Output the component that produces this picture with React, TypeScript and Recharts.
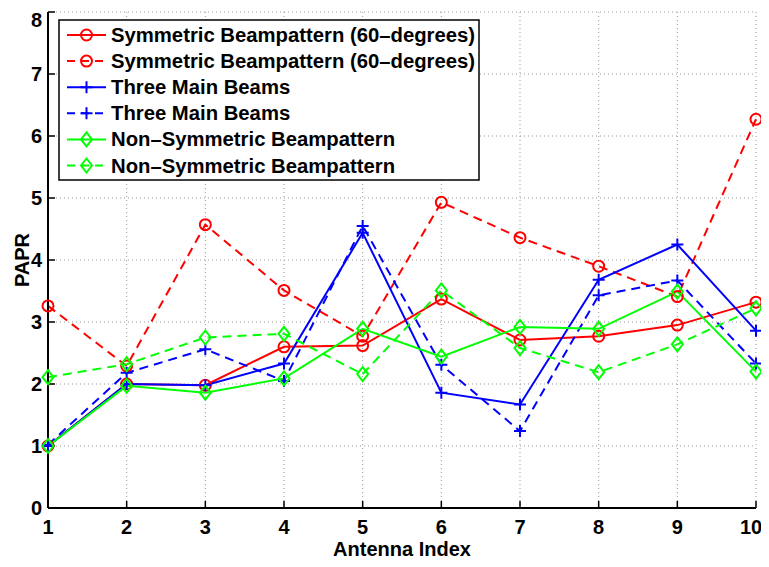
import { LineChart, Line, XAxis, YAxis, CartesianGrid, Legend, Label } from "recharts";

const antennaIndex = [1, 2, 3, 4, 5, 6, 7, 8, 9, 10];
const symmetricSolid = [1.0, 2.0, 1.98, 2.6, 2.62, 3.37, 2.71, 2.77, 2.95, 3.32];
const symmetricDashed = [3.26, 2.29, 4.57, 3.51, 2.77, 4.93, 4.36, 3.9, 3.41, 6.27];
const threeBeamsSolid = [1.0, 2.0, 1.98, 2.33, 4.44, 1.86, 1.67, 3.68, 4.25, 2.86];
const threeBeamsDashed = [1.02, 2.18, 2.56, 2.05, 4.55, 2.31, 1.24, 3.43, 3.67, 2.33];
const nonSymSolid = [1.0, 1.97, 1.86, 2.09, 2.89, 2.44, 2.92, 2.89, 3.49, 2.2];
const nonSymDashed = [2.11, 2.32, 2.75, 2.81, 2.16, 3.51, 2.58, 2.19, 2.64, 3.22];
const yTicks = [0, 1, 2, 3, 4, 5, 6, 7, 8];
const seriesNames = [
  "Symmetric Beampattern (60–degrees)",
  "Symmetric Beampattern (60–degrees)",
  "Three Main Beams",
  "Three Main Beams",
  "Non–Symmetric Beampattern",
  "Non–Symmetric Beampattern",
];

const RED = "#ff0000";
const BLUE = "#0000ff";
const GREEN = "#00ff00";
const FONT = "'Liberation Sans', Arial, Helvetica, sans-serif";
const DASH = "9 6";

type Marker = "circle" | "plus" | "diamond";

const series: { key: string; color: string; dashed: boolean; marker: Marker }[] = [
  { key: "symSolid", color: RED, dashed: false, marker: "circle" },
  { key: "symDashed", color: RED, dashed: true, marker: "circle" },
  { key: "beamSolid", color: BLUE, dashed: false, marker: "plus" },
  { key: "beamDashed", color: BLUE, dashed: true, marker: "plus" },
  { key: "nonSolid", color: GREEN, dashed: false, marker: "diamond" },
  { key: "nonDashed", color: GREEN, dashed: true, marker: "diamond" },
];

const data = antennaIndex.map((x, i) => ({
  x,
  symSolid: symmetricSolid[i],
  symDashed: symmetricDashed[i],
  beamSolid: threeBeamsSolid[i],
  beamDashed: threeBeamsDashed[i],
  nonSolid: nonSymSolid[i],
  nonDashed: nonSymDashed[i],
}));

function markerShape(marker: Marker, cx: number, cy: number, color: string, key?: string) {
  if (marker === "circle") {
    return <circle key={key} cx={cx} cy={cy} r={5.5} fill="none" stroke={color} strokeWidth={2} />;
  }
  if (marker === "plus") {
    return (
      <path
        key={key}
        d={`M${cx - 6},${cy}H${cx + 6}M${cx},${cy - 6}V${cy + 6}`}
        stroke={color}
        strokeWidth={2}
        fill="none"
      />
    );
  }
  return (
    <path
      key={key}
      d={`M${cx},${cy - 7}L${cx + 5.5},${cy}L${cx},${cy + 7}L${cx - 5.5},${cy}Z`}
      stroke={color}
      strokeWidth={2}
      fill="none"
    />
  );
}

const makeDot = (marker: Marker, color: string) => (props: any) => {
  const { cx, cy, index } = props;
  return markerShape(marker, cx, cy, color, `dot-${index}`);
};

function LegendBox() {
  return (
    <svg width={422} height={162} style={{ display: "block" }}>
      <rect x={1} y={1} width={420} height={160} fill="#fff" stroke="#000" strokeWidth={1.5} />
      {series.map((s, i) => {
        const cy = 16 + i * 26.1;
        return (
          <g key={s.key}>
            <line
              x1={9}
              x2={48}
              y1={cy}
              y2={cy}
              stroke={s.color}
              strokeWidth={2}
              strokeDasharray={s.dashed ? "8 6" : undefined}
            />
            {markerShape(s.marker, 28.5, cy, s.color)}
            <text x={53} y={cy + 7} fontFamily={FONT} fontWeight="bold" fontSize={20.3} fill="#000">
              {seriesNames[i]}
            </text>
          </g>
        );
      })}
    </svg>
  );
}

const tickStyle = { fontFamily: FONT, fontWeight: "bold", fontSize: 20, fill: "#000" };

export default function App() {
  return (
    <LineChart
      width={753}
      height={551}
      data={data}
      margin={{ top: 4, right: 5, bottom: 0, left: 0 }}
      style={{ background: "#fff" }}
    >
      <CartesianGrid stroke="#999" strokeDasharray="1 3" />
      <XAxis
        dataKey="x"
        type="number"
        domain={[1, 10]}
        ticks={antennaIndex}
        height={51}
        tickSize={-7}
        tickMargin={19}
        axisLine={{ stroke: "#000", strokeWidth: 2 }}
        tickLine={{ stroke: "#000", strokeWidth: 1.5 }}
        tick={tickStyle}
      >
        <Label
          value="Antenna Index"
          position="insideBottom"
          offset={3}
          style={{ fontFamily: FONT, fontWeight: "bold", fontSize: 20, fill: "#000" }}
        />
      </XAxis>
      <XAxis
        xAxisId="top"
        orientation="top"
        dataKey="x"
        type="number"
        domain={[1, 10]}
        ticks={antennaIndex}
        height={0}
        tickSize={-7}
        tick={false}
        axisLine={{ stroke: "#000", strokeWidth: 2 }}
        tickLine={{ stroke: "#000", strokeWidth: 1.5 }}
      />
      <YAxis
        type="number"
        domain={[0, 8]}
        ticks={yTicks}
        width={40}
        tickSize={-7}
        tickMargin={13}
        axisLine={{ stroke: "#000", strokeWidth: 2 }}
        tickLine={{ stroke: "#000", strokeWidth: 1.5 }}
        tick={tickStyle}
      >
        <Label
          content={(props: any) => {
            const vb = props.viewBox || { x: 0, y: 4, width: 40, height: 496 };
            const x = vb.x + 21;
            const y = vb.y + vb.height / 2;
            return (
              <text
                x={x}
                y={y}
                transform={`rotate(-90 ${x} ${y})`}
                textAnchor="middle"
                fontFamily={FONT}
                fontWeight="bold"
                fontSize={20}
                fill="#000"
              >
                PAPR
              </text>
            );
          }}
        />
      </YAxis>
      <YAxis
        yAxisId="right"
        orientation="right"
        type="number"
        domain={[0, 8]}
        ticks={yTicks}
        width={0}
        tickSize={-7}
        tick={false}
        axisLine={{ stroke: "#000", strokeWidth: 2 }}
        tickLine={{ stroke: "#000", strokeWidth: 1.5 }}
      />
      <Legend
        layout="vertical"
        align="center"
        verticalAlign="middle"
        content={() => <LegendBox />}
        wrapperStyle={{ left: 50, top: 11, width: 422, height: 162 }}
      />
      {series.map((s) => (
        <Line
          key={s.key}
          dataKey={s.key}
          type="linear"
          stroke={s.color}
          strokeWidth={2}
          strokeDasharray={s.dashed ? DASH : undefined}
          dot={makeDot(s.marker, s.color)}
          activeDot={false}
          legendType="none"
          isAnimationActive={false}
        />
      ))}
    </LineChart>
  );
}
